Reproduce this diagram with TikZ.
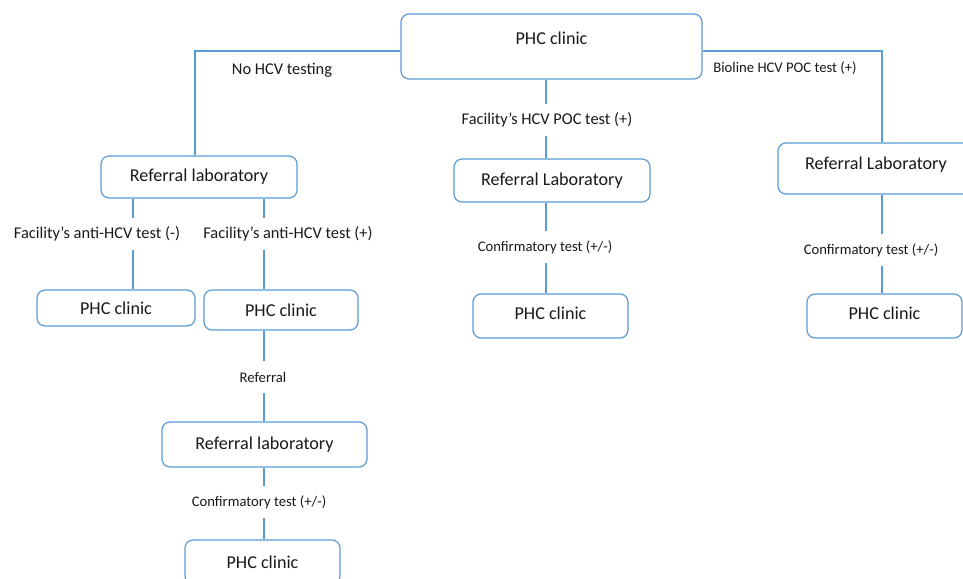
\documentclass[tikz,border=0pt]{standalone}
\usepackage{fontspec}
\usepackage{xcolor}
\usepackage{tikz}
\usetikzlibrary{positioning}
\setmainfont{Carlito}

\definecolor{linkblue}{HTML}{5B9BD5}

\tikzset{
    box/.style={draw=linkblue, line width=0.9pt, rounded corners=6pt, fill=white,
        font=\fontsize{13.6}{16}\selectfont, text=black!90, inner sep=0pt},
    link/.style={draw=linkblue, line width=0.9pt},
    lbl/.style={font=\fontsize{11}{13}\selectfont, text=black!90, inner sep=0pt, minimum height=24pt},
    lblbig/.style={lbl, font=\fontsize{12.3}{14}\selectfont}
}

\begin{document}
\begin{tikzpicture}[x=0.75pt, y=-0.75pt]
        \useasboundingbox (0,0) rectangle (963,578);
        \clip (0,0) rectangle (963,578);

        % The boxes
        \node[box, minimum width=225.75pt, minimum height=48.75pt, text depth=12pt] (phcTop) at (551.5,46.5) {PHC clinic};
        \node[box, minimum width=147pt, minimum height=31.5pt] (refL) at (199,177) {Referral laboratory};
        \node[box, minimum width=147pt, minimum height=32.25pt] (refM) at (552,180.5) {Referral Laboratory};
        \node[box, minimum width=147pt, minimum height=38.25pt, text depth=7.5pt] (refR) at (876,168.5) {Referral Laboratory};
        \node[box, minimum width=118.5pt, minimum height=27pt] (phcNeg) at (116,308) {PHC clinic};
        \node[box, minimum width=115.5pt, minimum height=30pt] (phcPos) at (281,310) {PHC clinic};
        \node[box, minimum width=116.25pt, minimum height=33pt, text depth=4pt] (phcM) at (550.5,316) {PHC clinic};
        \node[box, minimum width=116.25pt, minimum height=33pt, text depth=4pt] (phcR) at (884.5,316) {PHC clinic};
        \node[box, minimum width=153.75pt, minimum height=33.75pt] (refB) at (264.5,444.5) {Referral laboratory};
        \node[box, minimum width=116.25pt, minimum height=33pt] (phcB) at (262.5,562) {PHC clinic};

        % The labels on the branches
        \node[lblbig] (lblNo) at (282,70) {No HCV testing};
        \node[lbl] (lblBio) at (785,68) {Bioline HCV POC test (+)};
        \node[lblbig] (lblPoc) at (547,120) {Facility’s HCV POC test (+)};
        \node[lblbig] (lblNeg) at (97,234) {Facility’s anti-HCV test (-)};
        \node[lblbig] (lblPos) at (288,234) {Facility’s anti-HCV test (+)};
        \node[lbl] (lblConfM) at (545,247) {Confirmatory test (+/-)};
        \node[lbl] (lblConfR) at (871,250) {Confirmatory test (+/-)};
        \node[lbl] (lblRef) at (263,377) {Referral};
        \node[lbl] (lblConfB) at (259,502) {Confirmatory test (+/-)};

        % Where the lines bend or run down
        \coordinate (elbowL) at (195,51);
        \coordinate (elbowR) at (882,51);
        \coordinate (brNeg) at (133,0);
        \coordinate (brPos) at (264,0);
        \coordinate (brM) at (546,0);

        % Left branch: no testing
        \draw[link] (elbowL -| phcTop.west) -- (elbowL) -- (elbowL |- refL.north);
        \draw[link] (refL.south -| brNeg) -- (lblNeg.north -| brNeg);
        \draw[link] (lblNeg.south -| brNeg) -- (phcNeg.north -| brNeg);
        \draw[link] (refL.south -| brPos) -- (lblPos.north -| brPos);
        \draw[link] (lblPos.south -| brPos) -- (phcPos.north -| brPos);
        \draw[link] (phcPos.south -| brPos) -- (lblRef.north -| brPos);
        \draw[link] (lblRef.south -| brPos) -- (refB.north -| brPos);
        \draw[link] (refB.south -| brPos) -- (lblConfB.north -| brPos);
        \draw[link] (lblConfB.south -| brPos) -- (phcB.north -| brPos);

        % Middle branch: facility POC test
        \draw[link] (phcTop.south -| brM) -- (lblPoc.north -| brM);
        \draw[link] (lblPoc.south -| brM) -- (refM.north -| brM);
        \draw[link] (refM.south -| brM) -- (lblConfM.north -| brM);
        \draw[link] (lblConfM.south -| brM) -- (phcM.north -| brM);

        % Right branch: Bioline POC test
        \draw[link] (elbowR -| phcTop.east) -- (elbowR) -- (elbowR |- refR.north);
        \draw[link] (refR.south -| elbowR) -- (lblConfR.north -| elbowR);
        \draw[link] (lblConfR.south -| elbowR) -- (phcR.north -| elbowR);
    \end{tikzpicture}
\end{document}
